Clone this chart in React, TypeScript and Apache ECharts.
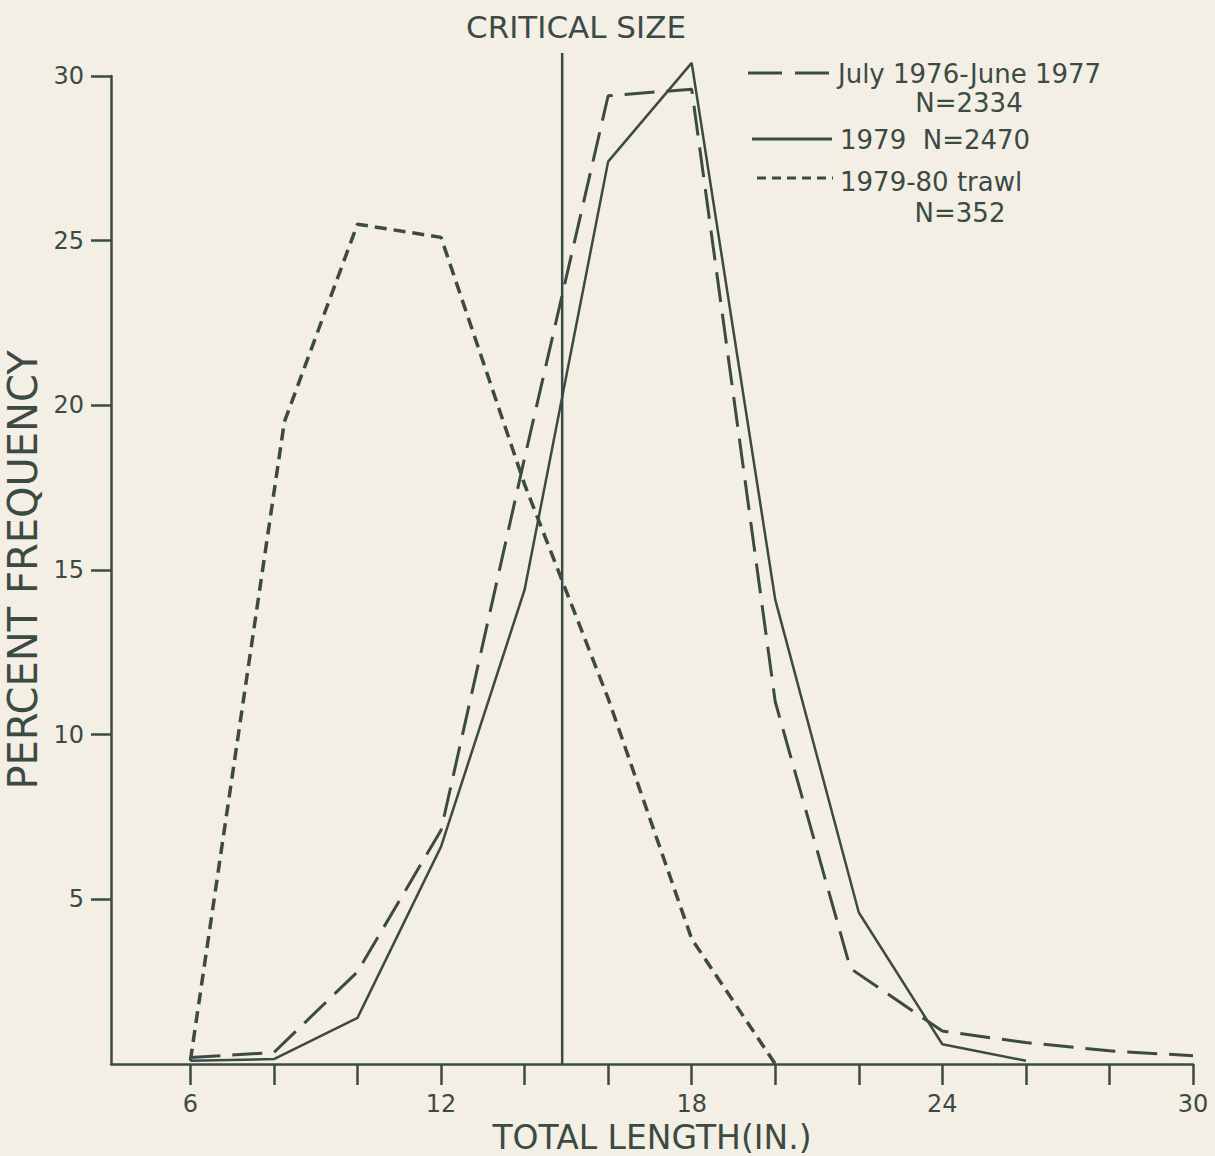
import React, { useEffect, useRef } from "react";
import * as echarts from "echarts";

// ---- data ----
const lengths1976 = [6, 8, 10, 12, 14, 16, 18, 20, 21.8, 24, 26, 28, 30];
const pct1976 = [0.2, 0.35, 2.8, 7.1, 18.4, 29.4, 29.6, 11.0, 2.9, 1.0, 0.65, 0.4, 0.25];

const lengths1979 = [6, 8, 10, 12, 14, 16, 18, 20, 22, 24, 26];
const pct1979 = [0.1, 0.15, 1.4, 6.6, 14.4, 27.4, 30.4, 14.1, 4.6, 0.6, 0.1];

const lengthsTrawl = [6, 8.25, 10, 12, 14, 16, 18, 20];
const pctTrawl = [0.1, 19.5, 25.5, 25.1, 17.6, 11.1, 3.8, 0];

const criticalX = [14.9, 14.9];
const criticalY = [0, 30.7];

const xTicks = [6, 8, 10, 12, 14, 16, 18, 20, 22, 24, 26, 28, 30];
const xLabels = [6, 12, 18, 24, 30];
const yTicks = [5, 10, 15, 20, 25, 30];

const legendLabels = ["July 1976-June 1977", "N=2334", "1979  N=2470", "1979-80 trawl", "N=352"];

const INK = "#3c4a44";
const BG = "#f3efe5";
const FONT = "DejaVu Sans";

const pairs = (xs: number[], ys: number[]) => xs.map((x, i) => [x, ys[i]]);

export default function App() {
  const ref = useRef<HTMLDivElement>(null);
  useEffect(() => {
    document.body.style.margin = "0";
    document.body.style.background = BG;
    const chart = echarts.init(ref.current!, null, { renderer: "svg" });
    const option: any = {
      animation: false,
      backgroundColor: BG,
      grid: { left: 111, right: 22, top: 76, bottom: 92, outerBoundsMode: "none" },
      xAxis: {
        type: "value",
        min: 4.1,
        max: 30,
        name: "TOTAL LENGTH(IN.)",
        nameLocation: "middle",
        nameGap: 46,
        nameTextStyle: { fontFamily: FONT, fontSize: 33, color: INK },
        axisLine: { show: true, lineStyle: { color: INK, width: 2.5 } },
        axisTick: { show: true, length: 21, customValues: xTicks, lineStyle: { color: INK, width: 2.5 } },
        axisLabel: { customValues: xLabels, margin: 28, fontFamily: FONT, fontSize: 24, color: INK },
        splitLine: { show: false },
      },
      yAxis: {
        type: "value",
        min: 0,
        max: 30,
        name: "PERCENT FREQUENCY",
        nameLocation: "middle",
        nameGap: 44,
        nameRotate: 90,
        nameTextStyle: { fontFamily: FONT, fontSize: 40, color: INK },
        axisLine: { show: true, lineStyle: { color: INK, width: 2.5 } },
        axisTick: { show: true, length: 20, customValues: yTicks, lineStyle: { color: INK, width: 2.5 } },
        axisLabel: { customValues: yTicks, margin: 27, fontFamily: FONT, fontSize: 24, color: INK },
        splitLine: { show: false },
      },
      series: [
        {
          name: "critical size",
          type: "line",
          data: pairs(criticalX, criticalY),
          showSymbol: false,
          clip: false,
          silent: true,
          lineStyle: { color: INK, width: 2.5, type: "solid" },
        },
        {
          name: "1979-80 trawl",
          type: "line",
          data: pairs(lengthsTrawl, pctTrawl),
          showSymbol: false,
          clip: false,
          lineStyle: { color: INK, width: 3.5, type: [12, 7] },
        },
        {
          name: "July 1976-June 1977",
          type: "line",
          data: pairs(lengths1976, pct1976),
          showSymbol: false,
          clip: false,
          lineStyle: { color: INK, width: 3, type: [30, 12] },
        },
        {
          name: "1979",
          type: "line",
          data: pairs(lengths1979, pct1979),
          showSymbol: false,
          clip: false,
          lineStyle: { color: INK, width: 2.5, type: "solid" },
        },
      ],
      graphic: [
        {
          type: "text",
          x: 576,
          y: 27,
          style: { text: "CRITICAL SIZE", fontFamily: FONT, fontSize: 31, fill: INK, align: "center", verticalAlign: "middle" },
        },
        { type: "line", shape: { x1: 748, y1: 73, x2: 829, y2: 73 }, style: { stroke: INK, lineWidth: 3, lineDash: [34, 13] } },
        { type: "line", shape: { x1: 752, y1: 139, x2: 832, y2: 139 }, style: { stroke: INK, lineWidth: 3 } },
        { type: "line", shape: { x1: 757, y1: 178, x2: 833, y2: 178 }, style: { stroke: INK, lineWidth: 3, lineDash: [9, 6] } },
        {
          type: "text", x: 838, y: 74,
          style: { text: legendLabels[0], fontFamily: FONT, fontSize: 26, fill: INK, align: "left", verticalAlign: "middle" },
        },
        {
          type: "text", x: 969, y: 103,
          style: { text: legendLabels[1], fontFamily: FONT, fontSize: 26, fill: INK, align: "center", verticalAlign: "middle" },
        },
        {
          type: "text", x: 840, y: 140,
          style: { text: legendLabels[2], fontFamily: FONT, fontSize: 26, fill: INK, align: "left", verticalAlign: "middle" },
        },
        {
          type: "text", x: 840, y: 182,
          style: { text: legendLabels[3], fontFamily: FONT, fontSize: 26, fill: INK, align: "left", verticalAlign: "middle" },
        },
        {
          type: "text", x: 960, y: 213,
          style: { text: legendLabels[4], fontFamily: FONT, fontSize: 26, fill: INK, align: "center", verticalAlign: "middle" },
        },
      ],
    };
    chart.setOption(option);
    return () => chart.dispose();
  }, []);
  return (
    <div
      ref={ref}
      style={{ position: "fixed", left: 0, top: 0, width: 1215, height: 1156, background: BG }}
    />
  );
}
